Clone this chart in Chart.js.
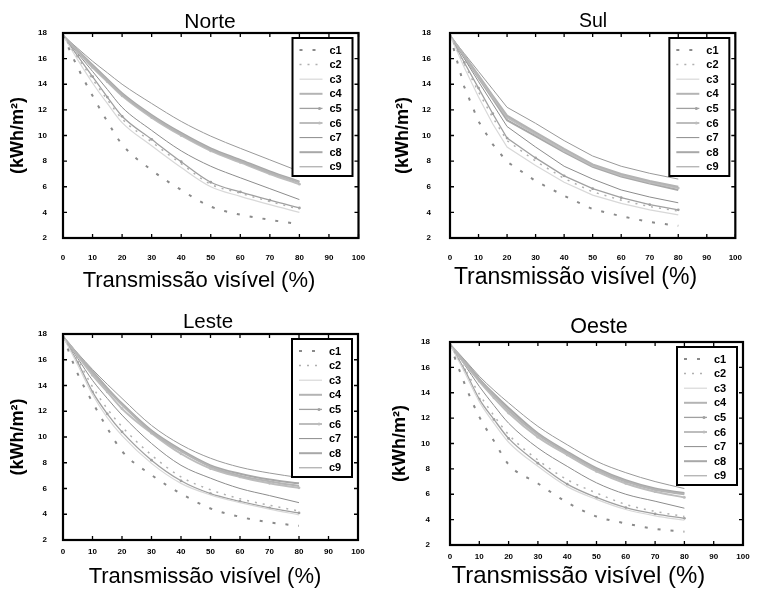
<!DOCTYPE html>
<html>
<head>
<meta charset="utf-8">
<script src="https://cdn.jsdelivr.net/npm/chart.js@4.4.0/dist/chart.umd.min.js"></script>
<style>
  html, body { margin: 0; padding: 0; background: #fff; }
  #wrap { position: relative; width: 757px; height: 590px; }
  #wrap canvas { position: absolute; left: 0; top: 0; }
</style>
</head>
<body>
<div id="wrap">
  <canvas id="norte" width="757" height="590"></canvas>
  <canvas id="sul" width="757" height="590"></canvas>
  <canvas id="leste" width="757" height="590"></canvas>
  <canvas id="oeste" width="757" height="590"></canvas>
</div>
<script>
// transmissão visível (%) where the curves were read
const transmissao = [0, 5, 10, 15, 20, 30, 40, 50, 60, 70, 80];
const seriesNames = ['c1', 'c2', 'c3', 'c4', 'c5', 'c6', 'c7', 'c8', 'c9'];
const xTicks = [0, 10, 20, 30, 40, 50, 60, 70, 80, 90, 100];
const yTicks = [2, 4, 6, 8, 10, 12, 14, 16, 18];

// kWh/m² per series (rows c1..c9)
const norte = [
  [17.8, 15.3, 13.1, 11.1, 9.3, 7.3, 5.75, 4.45, 3.82, 3.42, 3.07],
  [17.8, 16.1, 14.4, 12.8, 11.3, 9.5, 7.8, 6.2, 5.5, 4.85, 4.25],
  [17.8, 15.9, 14.1, 12.5, 11.0, 9.2, 7.5, 6.0, 5.25, 4.6, 4.0],
  [17.8, 16.6, 15.4, 14.3, 13.2, 11.5, 10.1, 8.9, 8.0, 7.1, 6.35],
  [17.8, 16.2, 14.6, 13.0, 11.5, 9.7, 7.95, 6.35, 5.6, 4.95, 4.35],
  [17.8, 16.55, 15.3, 14.2, 13.1, 11.4, 10.0, 8.8, 7.9, 7.0, 6.2],
  [17.8, 16.4, 15.0, 13.6, 12.2, 10.4, 8.8, 7.6, 6.7, 5.85, 5.0],
  [17.8, 16.65, 15.5, 14.4, 13.3, 11.6, 10.2, 9.0, 8.1, 7.2, 6.4],
  [17.8, 16.8, 15.8, 14.9, 14.0, 12.5, 11.1, 9.95, 9.0, 8.1, 7.2]
];
const sul = [
  [17.8, 13.8, 11.1, 9.3, 7.95, 6.45, 5.3, 4.25, 3.7, 3.25, 2.95],
  [17.8, 15.6, 13.4, 11.4, 9.6, 8.0, 6.65, 5.6, 4.95, 4.45, 4.1],
  [17.8, 15.3, 13.0, 10.9, 9.1, 7.65, 6.35, 5.35, 4.7, 4.2, 3.8],
  [17.8, 16.25, 14.7, 13.1, 11.55, 10.25, 8.95, 7.75, 7.0, 6.45, 6.0],
  [17.8, 15.7, 13.7, 11.7, 9.8, 8.25, 6.85, 5.85, 5.15, 4.6, 4.2],
  [17.8, 16.2, 14.6, 13.0, 11.4, 10.1, 8.8, 7.65, 6.9, 6.35, 5.9],
  [17.8, 16.0, 14.2, 12.45, 10.7, 9.1, 7.6, 6.6, 5.75, 5.2, 4.75],
  [17.8, 16.15, 14.5, 12.85, 11.2, 9.95, 8.7, 7.55, 6.8, 6.25, 5.75],
  [17.8, 16.4, 15.0, 13.6, 12.2, 10.95, 9.6, 8.4, 7.6, 7.05, 6.6]
];
const leste = [
  [17.8, 14.9, 12.7, 10.7, 8.9, 7.05, 5.6, 4.45, 3.8, 3.37, 3.1],
  [17.8, 16.0, 13.9, 12.2, 10.8, 8.6, 6.9, 5.9, 5.2, 4.7, 4.25],
  [17.8, 15.6, 13.3, 11.5, 10.1, 7.95, 6.4, 5.5, 4.9, 4.4, 3.95],
  [17.8, 16.4, 15.0, 13.7, 12.5, 10.4, 8.9, 7.7, 7.0, 6.55, 6.2],
  [17.8, 15.8, 13.5, 11.8, 10.4, 8.2, 6.6, 5.6, 5.0, 4.5, 4.1],
  [17.8, 16.3, 14.8, 13.5, 12.2, 10.3, 8.7, 7.55, 6.9, 6.4, 6.05],
  [17.8, 16.1, 14.4, 13.0, 11.7, 9.5, 7.8, 6.8, 6.0, 5.45, 4.9],
  [17.8, 16.4, 15.1, 13.8, 12.6, 10.5, 9.0, 7.8, 7.15, 6.7, 6.4],
  [17.8, 16.5, 15.25, 14.1, 13.0, 10.9, 9.4, 8.35, 7.65, 7.2, 6.85]
];
const oeste = [
  [17.8, 14.7, 12.1, 10.2, 8.35, 6.85, 5.35, 4.25, 3.7, 3.27, 3.05],
  [17.8, 15.9, 13.9, 12.2, 10.7, 8.7, 7.15, 6.1, 5.2, 4.65, 4.25],
  [17.8, 15.6, 13.3, 11.6, 10.1, 8.2, 6.6, 5.6, 4.8, 4.3, 3.95],
  [17.8, 16.4, 15.0, 13.8, 12.6, 10.7, 9.25, 7.95, 7.0, 6.35, 6.0],
  [17.8, 15.8, 13.5, 11.9, 10.4, 8.45, 6.8, 5.75, 4.95, 4.45, 4.1],
  [17.8, 16.3, 14.9, 13.6, 12.4, 10.5, 9.1, 7.8, 6.85, 6.2, 5.75],
  [17.8, 16.2, 14.5, 13.0, 11.6, 9.65, 8.2, 6.9, 6.0, 5.45, 4.9],
  [17.8, 16.5, 15.1, 13.9, 12.8, 10.8, 9.35, 8.05, 7.1, 6.45, 6.1],
  [17.8, 16.6, 15.3, 14.2, 13.2, 11.35, 9.9, 8.6, 7.7, 7.0, 6.45]
];

// line looks, one per series
const seriesStyles = [
  { color: '#8a8a8a', width: 2, dash: [3, 10], point: false },
  { color: '#b0b0b0', width: 1.5, dash: [2, 6], point: false },
  { color: '#d8d8d8', width: 1.2, dash: [], point: false },
  { color: '#b4b4b4', width: 2, dash: [], point: false },
  { color: '#a0a0a0', width: 1.3, dash: [], point: true },
  { color: '#bdbdbd', width: 2, dash: [], point: true },
  { color: '#8c8c8c', width: 1, dash: [], point: false },
  { color: '#a8a8a8', width: 2, dash: [], point: false },
  { color: '#999999', width: 1, dash: [], point: false }
];

// page placement of each panel (plot box edges, text anchors)
// Sul has a sharp bend at 20 %, so it is drawn with straight segments
const panels = [
  { id: 'norte', name: 'Norte', values: norte, smooth: true, L: 63, R: 358.5, T: 33, B: 238,
    titleAt: [210, 22], titleSize: 21, xTitleAt: [199, 281], xTitleSize: 22,
    yTitleX: 18, yTickPad: 16, xTickPad: 15 },
  { id: 'sul', name: 'Sul', values: sul, smooth: false, L: 450, R: 746, T: 33, B: 238,
    titleAt: [593, 22], titleSize: 19.5, xTitleAt: [575.5, 278], xTitleSize: 23,
    yTitleX: 402.7, yTickPad: 19, xTickPad: 15 },
  { id: 'leste', name: 'Leste', values: leste, smooth: true, L: 63, R: 358, T: 334, B: 540,
    titleAt: [208, 322.5], titleSize: 20.5, xTitleAt: [205, 576.7], xTitleSize: 22,
    yTitleX: 18.3, yTickPad: 16, xTickPad: 7 },
  { id: 'oeste', name: 'Oeste', values: oeste, smooth: true, L: 450, R: 743, T: 342, B: 545,
    titleAt: [599, 326.7], titleSize: 21.5, xTitleAt: [578.4, 576.5], xTitleSize: 24,
    yTitleX: 400, yTickPad: 20, xTickPad: 7 }
];

const FONT = '"Liberation Sans", Arial, Helvetica, sans-serif';
Chart.defaults.font.family = FONT;
Chart.defaults.color = '#000';

const W = 757, H = 590, Y_TITLE_SIZE = 18, X_AXIS_H = 30;

// frame with inward ticks, boxed legend, panel title and x label
const framePlugin = {
  id: 'frame',
  afterDatasetsDraw(chart, args, opts) {
    const { ctx, chartArea: a, scales: { x, y } } = chart;
    ctx.save();
    ctx.setLineDash([]);
    ctx.strokeStyle = '#000';
    ctx.lineWidth = 1.3;
    ctx.beginPath();
    xTicks.forEach(v => {
      const px = x.getPixelForValue(v);
      ctx.moveTo(px, a.bottom); ctx.lineTo(px, a.bottom - 4);
      ctx.moveTo(px, a.top); ctx.lineTo(px, a.top + 4);
    });
    yTicks.forEach(v => {
      const py = y.getPixelForValue(v);
      ctx.moveTo(a.left, py); ctx.lineTo(a.left + 4, py);
      ctx.moveTo(a.right, py); ctx.lineTo(a.right - 4, py);
    });
    ctx.stroke();
    ctx.lineWidth = 2.2;
    ctx.strokeRect(a.left, a.top, a.right - a.left, a.bottom - a.top);

    // legend box
    const lw = 60, lh = 138;
    const lx = a.right - 6 - lw, ly = a.top + 5;
    ctx.fillStyle = '#fff';
    ctx.fillRect(lx, ly, lw, lh);
    ctx.lineWidth = 2;
    ctx.strokeRect(lx, ly, lw, lh);
    ctx.font = 'bold 11px ' + FONT;
    ctx.textAlign = 'left';
    ctx.textBaseline = 'middle';
    chart.data.datasets.forEach((ds, i) => {
      const cy = ly + 12 + i * 14.6;
      ctx.strokeStyle = ds.borderColor;
      ctx.lineWidth = ds.borderWidth;
      ctx.setLineDash(ds.borderDash || []);
      ctx.beginPath();
      ctx.moveTo(lx + 7, cy);
      ctx.lineTo(lx + 30, cy);
      ctx.stroke();
      ctx.setLineDash([]);
      if (ds.pointRadius > 0) {
        ctx.fillStyle = ds.borderColor;
        ctx.beginPath();
        ctx.arc(lx + 27, cy, 1.5, 0, Math.PI * 2);
        ctx.fill();
      }
      ctx.fillStyle = '#000';
      ctx.fillText(ds.label, lx + 37, cy + 0.5);
    });

    // panel title and x label
    ctx.textAlign = 'center';
    ctx.font = opts.titleSize + 'px ' + FONT;
    ctx.fillText(opts.name, opts.titleAt[0], opts.titleAt[1]);
    ctx.font = opts.xTitleSize + 'px ' + FONT;
    ctx.fillText('Transmissão visível (%)', opts.xTitleAt[0], opts.xTitleAt[1]);
    ctx.restore();
  }
};

panels.forEach(p => {
  const padLeft = p.yTitleX - Y_TITLE_SIZE * 1.2 / 2;
  const yAxisW = p.L - padLeft;
  new Chart(document.getElementById(p.id), {
    type: 'line',
    data: {
      datasets: seriesNames.map((name, i) => ({
        label: name,
        data: transmissao.map((t, j) => ({ x: t, y: p.values[i][j] })),
        borderColor: seriesStyles[i].color,
        borderWidth: seriesStyles[i].width,
        borderDash: seriesStyles[i].dash,
        pointRadius: seriesStyles[i].point ? 1.4 : 0,
        pointStyle: 'circle',
        pointBackgroundColor: seriesStyles[i].color,
        pointBorderWidth: 0,
        cubicInterpolationMode: p.smooth ? 'monotone' : 'default',
        tension: 0,
        fill: false
      }))
    },
    options: {
      responsive: false,
      animation: false,
      events: [],
      layout: {
        padding: { left: padLeft, right: W - p.R, top: p.T, bottom: H - p.B - X_AXIS_H }
      },
      scales: {
        x: {
          type: 'linear', min: 0, max: 100,
          afterBuildTicks: s => { s.ticks = xTicks.map(v => ({ value: v })); },
          ticks: { padding: p.xTickPad, maxRotation: 0, autoSkip: false,
                   font: { size: 8, weight: 'bold' }, color: '#000' },
          grid: { display: false, drawTicks: false },
          border: { display: false },
          afterFit: s => { s.height = X_AXIS_H; }
        },
        y: {
          type: 'linear', min: 2, max: 18,
          afterBuildTicks: s => { s.ticks = yTicks.map(v => ({ value: v })); },
          ticks: { padding: p.yTickPad, font: { size: 8, weight: 'bold' }, color: '#000' },
          grid: { display: false, drawTicks: false },
          border: { display: false },
          title: { display: true, text: '(kWh/m²)', padding: 0,
                   font: { size: Y_TITLE_SIZE, weight: 'bold' }, color: '#000' },
          afterFit: s => { s.width = yAxisW; }
        }
      },
      plugins: {
        legend: { display: false },
        tooltip: { enabled: false },
        frame: p
      }
    },
    plugins: [framePlugin]
  });
});
</script>
</body>
</html>
